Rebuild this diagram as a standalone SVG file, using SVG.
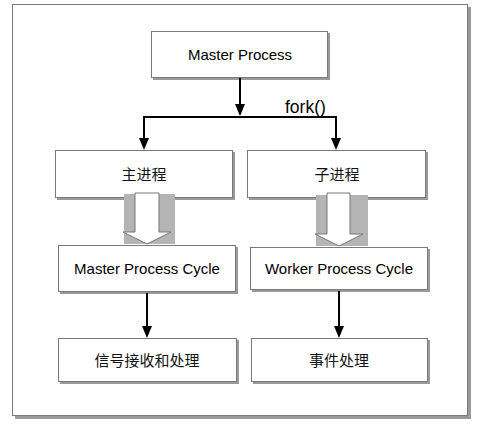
<svg xmlns="http://www.w3.org/2000/svg" width="483" height="429" viewBox="0 0 483 429">
<style>
.box{fill:#fff;stroke:#7a7a7a;stroke-width:1}
.sh{fill:#9a9a9a}
.en{font-family:"Liberation Sans",Arial,sans-serif;font-size:15px;fill:#000;text-anchor:middle}
.cn{font-family:"Noto Sans CJK SC",sans-serif;font-size:15px;fill:#111;text-anchor:middle}
.ln{stroke:#000;stroke-width:2;fill:none}
.grey{fill:#b4b4b4}
.big{fill:#fff;stroke:#777;stroke-width:1}
.fork{font-family:"Liberation Sans",Arial,sans-serif;font-size:17.5px;fill:#000}
</style>
<rect width="483" height="429" fill="#fff"/>
<g id="frame">
<rect class="sh" x="15" y="7" width="456" height="412"/>
<rect class="box" x="12.5" y="4.5" width="455" height="411"/>
</g>
<g id="master">
<rect class="sh" x="153" y="33" width="177" height="47"/>
<rect class="box" x="151.5" y="31.5" width="176" height="46"/>
<text class="en" x="240" y="60">Master Process</text>
</g>
<g id="main">
<rect class="sh" x="57" y="152" width="178" height="48"/>
<rect class="box" x="55.5" y="150.5" width="177" height="47"/>
<text class="cn" x="144" y="180">主进程</text>
</g>
<g id="child">
<rect class="sh" x="249" y="152" width="179" height="48"/>
<rect class="box" x="247.5" y="150.5" width="178" height="47"/>
<text class="cn" x="337" y="180">子进程</text>
</g>
<g id="mpc">
<rect class="sh" x="60" y="247" width="178" height="47"/>
<rect class="box" x="58.5" y="245.5" width="177" height="46"/>
<text class="en" x="147" y="274">Master Process Cycle</text>
</g>
<g id="wpc">
<rect class="sh" x="252" y="249" width="178" height="43"/>
<rect class="box" x="250.5" y="247.5" width="177" height="42"/>
<text class="en" x="339" y="274">Worker Process Cycle</text>
</g>
<g id="signal">
<rect class="sh" x="60" y="340" width="179" height="44"/>
<rect class="box" x="58.5" y="338.5" width="178" height="43"/>
<text class="cn" x="147" y="366">信号接收和处理</text>
</g>
<g id="event">
<rect class="sh" x="253" y="340" width="177" height="44"/>
<rect class="box" x="251.5" y="338.5" width="176" height="43"/>
<text class="cn" x="339" y="366">事件处理</text>
</g>
<g id="connectors">
<path class="ln" d="M240,78 V104"/>
<path d="M235,104 L245,104 L240,116 Z" fill="#000"/>
<path class="ln" d="M144,138 V117 H336 V138"/>
<path d="M139,138 L149,138 L144,150 Z" fill="#000"/>
<path d="M331,138 L341,138 L336,150 Z" fill="#000"/>
<text class="fork" x="285" y="113">fork()</text>
<rect class="grey" x="124" y="194" width="51" height="50"/>
<path class="big" d="M135,193 H159 V232 H171 L147,244 L123,232 H135 Z"/>
<rect class="grey" x="316" y="195" width="52" height="51"/>
<path class="big" d="M327,193 H350 V234 H363 L339,246 L315,234 H327 Z"/>
<path class="ln" d="M147,293 V326"/>
<path d="M142,326 L152,326 L147,338 Z" fill="#000"/>
<path class="ln" d="M339,291 V326"/>
<path d="M334,326 L344,326 L339,338 Z" fill="#000"/>
</g>
</svg>
